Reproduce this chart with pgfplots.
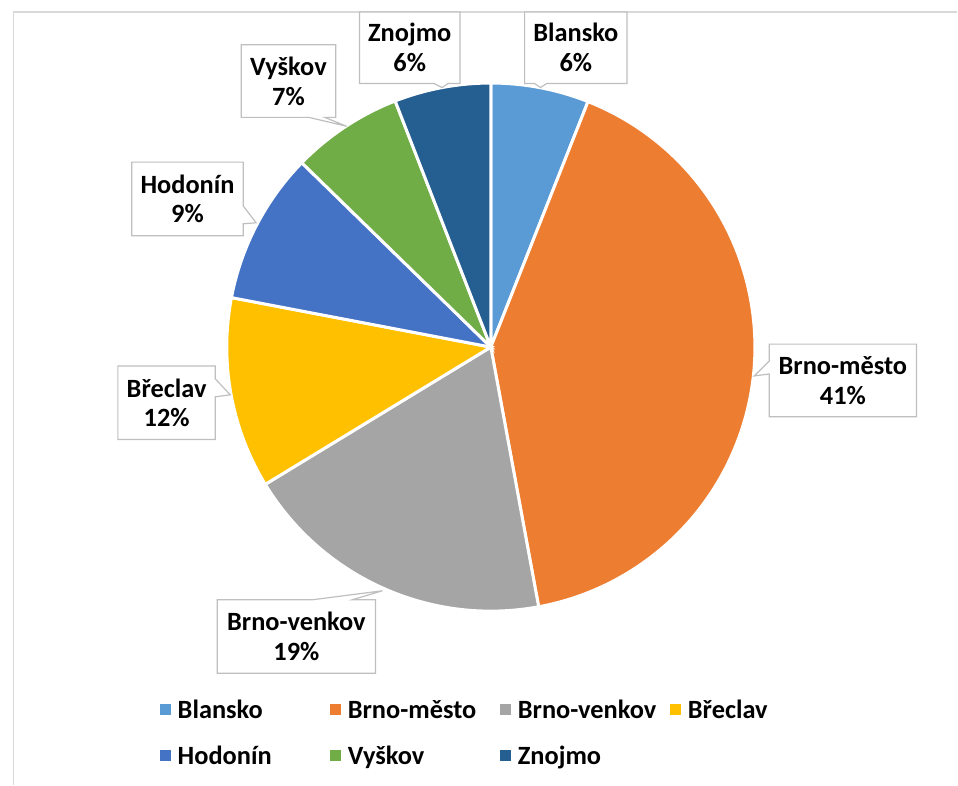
\documentclass[border=0pt]{standalone}
\usepackage{fontspec}
\setmainfont{Carlito}
\usepackage{pgfplots}
\usepackage{pgfplotstable}
\pgfplotsset{compat=1.18}

\definecolor{pc0}{HTML}{5B9BD5}
\definecolor{pc1}{HTML}{ED7D31}
\definecolor{pc2}{HTML}{A5A5A5}
\definecolor{pc3}{HTML}{FFC000}
\definecolor{pc4}{HTML}{4472C4}
\definecolor{pc5}{HTML}{70AD47}
\definecolor{pc6}{HTML}{255E91}
\definecolor{boxgray}{HTML}{BFBFBF}
\definecolor{framegray}{HTML}{D9D9D9}

% share of each district, percent
\pgfplotstableread{
name value
Blansko 6.0
Brno-město 41.1
Brno-venkov 19.2
Břeclav 11.7
Hodonín 9.3
Vyškov 6.8
Znojmo 5.9
}\piedata

\newcommand\lab{\fontsize{26.5}{30}\selectfont\bfseries}
\newcommand\leg[1]{\makebox[153pt][l]{\rule[-3pt]{0pt}{24pt}#1}}

\begin{document}
% start and end angle of every slice, clockwise from the top
\def\cum{90}
\pgfplotsforeachungrouped \i in {0,...,6}{%
  \pgfplotstablegetelem{\i}{value}\of\piedata
  \pgfmathsetmacro\sweep{3.6*\pgfplotsretval}%
  \pgfmathsetmacro\enda{\cum-\sweep}%
  \expandafter\xdef\csname pieS\i\endcsname{\cum}%
  \expandafter\xdef\csname pieE\i\endcsname{\enda}%
  \xdef\cum{\enda}%
}
\begin{tikzpicture}
\begin{axis}[
    scale only axis,
    width=958pt, height=789pt,
    xmin=0, xmax=958, ymin=0, ymax=789,
    y dir=reverse,
    hide axis,
    clip=false,
    legend columns=4,
    legend cell align=left,
    legend image code/.code={\fill[#1, draw=none] (0pt,-5.5pt) rectangle (11pt,5.5pt);},
    legend style={
        draw=none, fill=none,
        inner xsep=0pt, inner ysep=0pt,
        at={(axis cs:156,701)}, anchor=north west,
        nodes={inner sep=0pt, text depth=3pt},
        font=\lab,
        row sep=22pt,
        /tikz/every odd column/.append style={column sep=7pt},
    },
]
\path (axis cs:0,0) rectangle (axis cs:958,789);
\draw[framegray, line width=1.5pt] (axis cs:9,789) -- (axis cs:9,12) -- (axis cs:958,12);

\pgfplotsinvokeforeach{0,...,6}{
  \filldraw[fill=pc#1, draw=white, line width=3pt]
    (axis cs:489,349) -- ++(\csname pieS#1\endcsname:265.5pt)
    arc[start angle=\csname pieS#1\endcsname, end angle=\csname pieE#1\endcsname, radius=265.5pt] -- cycle;
}

\addlegendimage{fill=pc0}\addlegendentry{\leg{Blansko}}
\addlegendimage{fill=pc1}\addlegendentry{\leg{Brno-město}}
\addlegendimage{fill=pc2}\addlegendentry{\leg{Brno-venkov}}
\addlegendimage{fill=pc3}\addlegendentry{\leg{Břeclav}}
\addlegendimage{fill=pc4}\addlegendentry{\leg{Hodonín}}
\addlegendimage{fill=pc5}\addlegendentry{\leg{Vyškov}}
\addlegendimage{fill=pc6}\addlegendentry{\leg{Znojmo}}

% data callouts
\tikzset{callout/.style={fill=white, draw=boxgray, line width=1.2pt, line join=miter}}
\filldraw[callout] (axis cs:523,12) -- (axis cs:626,12) -- (axis cs:626,84) -- (axis cs:545,84)
  -- (axis cs:539,88) -- (axis cs:533,84) -- (axis cs:523,84) -- cycle;
\node[font=\lab, align=center] at (axis cs:574.5,48) {Blansko\\6\%};

\filldraw[callout] (axis cs:769,346) -- (axis cs:917,346) -- (axis cs:917,419) -- (axis cs:769,419)
  -- (axis cs:769,376) -- (axis cs:754,378) -- (axis cs:769,363) -- cycle;
\node[font=\lab, align=center] at (axis cs:843,382.5) {Brno-město\\41\%};

\filldraw[callout] (axis cs:214,603) -- (axis cs:310,603) -- (axis cs:380,594) -- (axis cs:350,603)
  -- (axis cs:373,603) -- (axis cs:373,677) -- (axis cs:214,677) -- cycle;
\node[font=\lab, align=center] at (axis cs:293.5,640) {Brno-venkov\\19\%};

\filldraw[callout] (axis cs:114,368) -- (axis cs:212,368) -- (axis cs:212,381) -- (axis cs:227,397)
  -- (axis cs:212,399) -- (axis cs:212,442) -- (axis cs:114,442) -- cycle;
\node[font=\lab, align=center] at (axis cs:163,405) {Břeclav\\12\%};

\filldraw[callout] (axis cs:128,163) -- (axis cs:240,163) -- (axis cs:240,207) -- (axis cs:253,224)
  -- (axis cs:240,225) -- (axis cs:240,237) -- (axis cs:128,237) -- cycle;
\node[font=\lab, align=center] at (axis cs:184,200) {Hodonín\\9\%};

\filldraw[callout] (axis cs:238,45) -- (axis cs:333,45) -- (axis cs:333,118) -- (axis cs:322,118)
  -- (axis cs:344,127) -- (axis cs:306,118) -- (axis cs:238,118) -- cycle;
\node[font=\lab, align=center] at (axis cs:285.5,81.5) {Vyškov\\7\%};

\filldraw[callout] (axis cs:357,12) -- (axis cs:458,12) -- (axis cs:458,84) -- (axis cs:446,84)
  -- (axis cs:440,88) -- (axis cs:432,84) -- (axis cs:357,84) -- cycle;
\node[font=\lab, align=center] at (axis cs:407.5,48) {Znojmo\\6\%};
\end{axis}
\end{tikzpicture}
\end{document}
